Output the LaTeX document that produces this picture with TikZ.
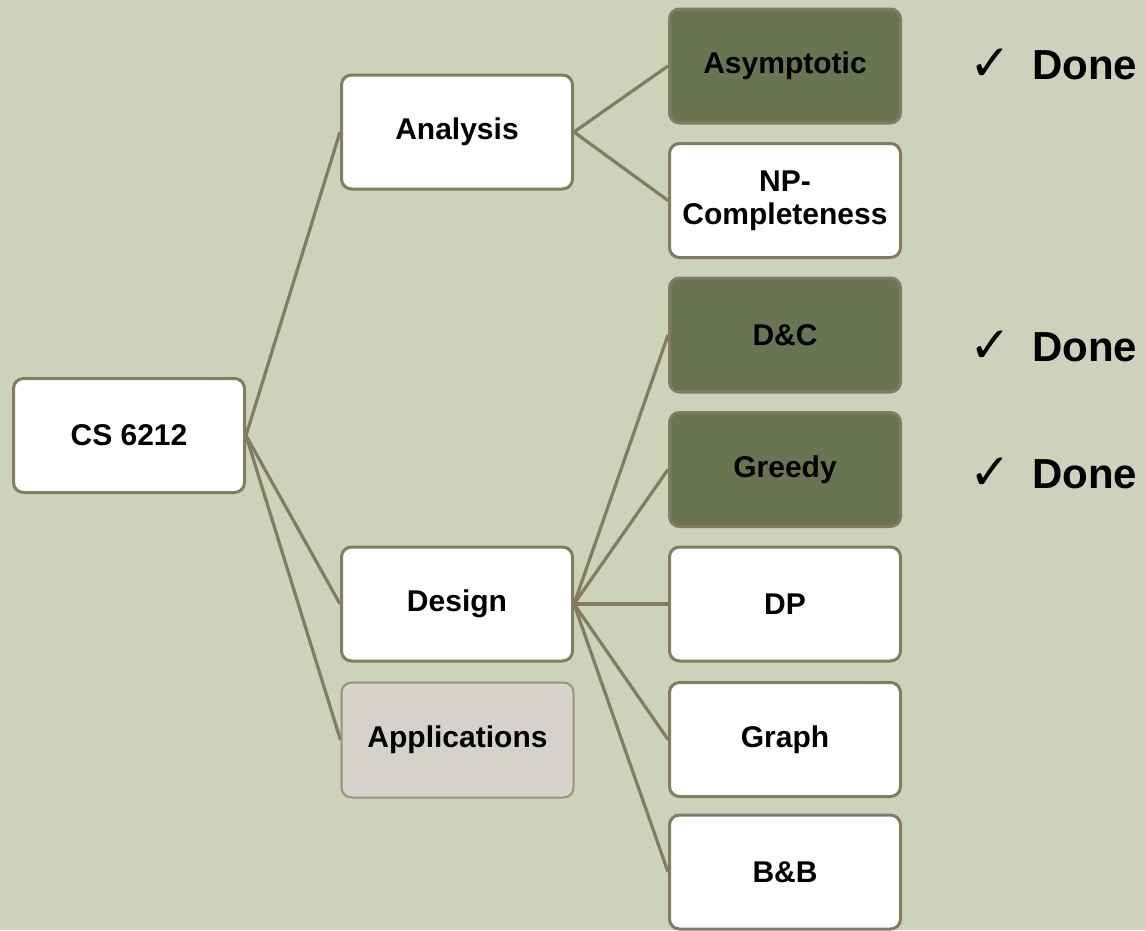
\documentclass[tikz,border=0pt]{standalone}
\usepackage{fontspec}
\setmainfont{Liberation Sans}
\newfontfamily\symfont{DejaVu Sans}
\definecolor{bgc}{HTML}{CDD2BB}
\definecolor{edgec}{HTML}{827C60}
\definecolor{darkc}{HTML}{6B7450}
\definecolor{appc}{HTML}{D4D2CA}
\definecolor{appb}{HTML}{9A9378}
\pgfdeclarelayer{bglayer}
\pgfdeclarelayer{edgelayer}
\pgfsetlayers{bglayer,edgelayer,main}
\tikzset{
  box/.style={draw=edgec, line width=3pt, rounded corners=10pt, fill=white,
    minimum width=231pt, minimum height=114pt, inner sep=0pt, align=center,
    font=\fontsize{30}{33}\selectfont\bfseries},
  donebox/.style={box, fill=darkc},
  appbox/.style={box, draw=appb, line width=2pt, fill=appc, minimum width=232pt, minimum height=115pt},
  conn/.style={draw=edgec, line width=3.2pt},
  donetxt/.style={anchor=base west, inner sep=0pt, font=\fontsize{42}{44}\selectfont\bfseries},
  checktxt/.style={anchor=base, inner sep=0pt, font=\symfont\fontsize{50}{52}\selectfont}
}
\begin{document}
\begin{tikzpicture}[x=1pt,y=-1pt]
\begin{pgfonlayer}{bglayer}
\fill[bgc] (0,0) rectangle (1145,930);
\end{pgfonlayer}
\useasboundingbox (0,0) rectangle (1145,930);
\node[box] (root) at (129,435.5) {CS 6212};
\node[box] (ana) at (457,132) {Analysis};
\node[box] (des) at (457,604) {Design};
\node[appbox] (app) at (457.5,740) {Applications};
\node[donebox] (asy) at (785,66) {Asymptotic};
\node[box] (np) at (785,200.5) {NP-\\Completeness};
\node[donebox] (dc) at (785,335) {D\&C};
\node[donebox] (gr) at (785,469.5) {Greedy};
\node[box] (dp) at (785,604) {DP};
\node[box] (gph) at (785,739.5) {Graph};
\node[box] (bb) at (785,872) {B\&B};
\begin{pgfonlayer}{edgelayer}
\draw[conn] (root.east) -- (ana.west);
\draw[conn] (root.east) -- (des.west);
\draw[conn] (root.east) -- (app.west);
\draw[conn] (ana.east) -- (asy.west);
\draw[conn] (ana.east) -- (np.west);
\draw[conn] (des.east) -- (dc.west);
\draw[conn] (des.east) -- (gr.west);
\draw[conn] (des.east) -- (dp.west);
\draw[conn] (des.east) -- (gph.west);
\draw[conn] (des.east) -- (bb.west);
\end{pgfonlayer}
\node[checktxt] (c1) at (990,80) {✓};
\node[donetxt] (d1) at (1032,79) {Done};
\node[checktxt] (c2) at (990,362) {✓};
\node[donetxt] (d2) at (1032,361) {Done};
\node[checktxt] (c3) at (990,489) {✓};
\node[donetxt] (d3) at (1032,488) {Done};
\end{tikzpicture}
\end{document}
